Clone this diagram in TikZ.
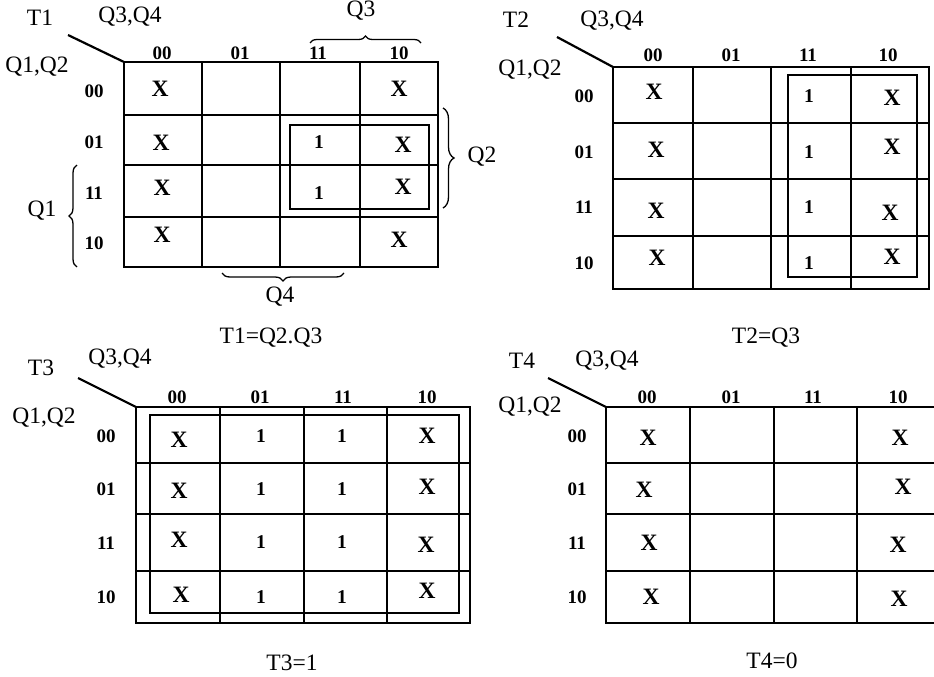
\documentclass[tikz,border=0pt]{standalone}
\usepackage{fontspec}
\setmainfont{Liberation Serif}
\usetikzlibrary{decorations.pathreplacing}
\begin{document}
\begin{tikzpicture}[x=1pt,y=-1pt,
  lbl/.style={font=\fontsize{23.5}{24}\selectfont, inner sep=0pt, anchor=base},
  hdr/.style={font=\fontsize{19}{19}\selectfont\bfseries, inner sep=0pt},
  xm/.style={font=\fontsize{23.5}{24}\selectfont\bfseries, inner sep=0pt},
  one/.style={font=\fontsize{19.5}{20}\selectfont\bfseries, inner sep=0pt},
  gridline/.style={line width=2pt},
  grp/.style={line width=2pt},
  diag/.style={line width=2.2pt},
  brc/.style={line width=1.3pt, decorate, decoration={brace, amplitude=#1}},
]
\useasboundingbox (0,0) rectangle (934,677);

% ================= Map T1 =================
\draw[gridline] (124,62) rectangle (438,267);
\foreach \x in {202,280,360} \draw[gridline] (\x,62) -- (\x,267);
\foreach \y in {115,165,217} \draw[gridline] (124,\y) -- (438,\y);
\coordinate (a1) at (68,35);
\coordinate (c1) at (124,62);
\draw[diag] (a1) -- (c1);
\node[lbl] (t1) at (40,26) {T1};
\node[lbl] (t1q34) at (130,23) {Q3,Q4};
\node[lbl] (t1q12) at (37,72) {Q1,Q2};
\foreach \x/\t [count=\i] in {162/00,240/01,318/11,399/10}
  \node[hdr] (t1col\i) at (\x,53) {\t};
\foreach \y/\t [count=\i] in {91/00,142/01,193/11,243/10}
  \node[hdr] (t1row\i) at (94,\y) {\t};
\node[xm] (t1x1) at (160,89) {X};
\node[xm] (t1x2) at (399,89) {X};
\node[xm] (t1x3) at (161,143) {X};
\node[xm] (t1x4) at (403,145) {X};
\node[xm] (t1x5) at (162,188) {X};
\node[xm] (t1x6) at (403,187) {X};
\node[xm] (t1x7) at (162,235) {X};
\node[xm] (t1x8) at (399,240) {X};
\node[one] (t1o1) at (319,142) {1};
\node[one] (t1o2) at (319,193) {1};
\draw[grp] (290,125) rectangle (429,209);
% braces
\coordinate (b3a) at (310,43); \coordinate (b3b) at (421,43);
\draw[brc=7pt] (b3a) -- (b3b);
\node[lbl] (lq3) at (361,17) {Q3};
\coordinate (b2a) at (443,108); \coordinate (b2b) at (443,208);
\draw[brc=11pt] (b2a) -- (b2b);
\node[lbl] (lq2) at (482,162) {Q2};
\coordinate (b1a) at (77,267); \coordinate (b1b) at (77,165);
\draw[brc=8pt] (b1a) -- (b1b);
\node[lbl] (lq1) at (42,216) {Q1};
\coordinate (b4a) at (344,273); \coordinate (b4b) at (222,273);
\draw[brc=8pt] (b4a) -- (b4b);
\node[lbl] (lq4) at (280,302) {Q4};
\node[lbl] (eq1) at (271,343) {T1=Q2.Q3};

% ================= Map T2 =================
\draw[gridline] (613,67) rectangle (929,289);
\foreach \x in {693,771,851} \draw[gridline] (\x,67) -- (\x,289);
\foreach \y in {123,179,236} \draw[gridline] (613,\y) -- (929,\y);
\coordinate (a2) at (557,37);
\coordinate (c2) at (613,67);
\draw[diag] (a2) -- (c2);
\node[lbl] (t2) at (516,28) {T2};
\node[lbl] (t2q34) at (612,27) {Q3,Q4};
\node[lbl] (t2q12) at (530,76) {Q1,Q2};
\foreach \x/\t [count=\i] in {653/00,731/01,808/11,888/10}
  \node[hdr] (t2col\i) at (\x,55) {\t};
\foreach \y/\t [count=\i] in {96/00,152/01,207/11,263/10}
  \node[hdr] (t2row\i) at (584,\y) {\t};
\node[xm] (t2x1) at (654,92) {X};
\node[xm] (t2x2) at (656,150) {X};
\node[xm] (t2x3) at (656,211) {X};
\node[xm] (t2x4) at (657,258) {X};
\node[xm] (t2x5) at (892,98) {X};
\node[xm] (t2x6) at (892,147) {X};
\node[xm] (t2x7) at (890,213) {X};
\node[xm] (t2x8) at (892,257) {X};
\foreach \y [count=\i] in {96,152,207,263}
  \node[one] (t2o\i) at (809,\y) {1};
\draw[grp] (788,75) rectangle (917,277);
\node[lbl] (eq2) at (766,343) {T2=Q3};

% ================= Map T3 =================
\draw[gridline] (136,407) rectangle (470,623);
\foreach \x in {220,304,387} \draw[gridline] (\x,407) -- (\x,623);
\foreach \y in {463,514,571} \draw[gridline] (136,\y) -- (470,\y);
\coordinate (a3) at (78,378);
\coordinate (c3) at (136,407);
\draw[diag] (a3) -- (c3);
\node[lbl] (t3) at (41,375) {T3};
\node[lbl] (t3q34) at (120,364) {Q3,Q4};
\node[lbl] (t3q12) at (44,423) {Q1,Q2};
\foreach \x/\t [count=\i] in {177/00,260/01,343/11,427/10}
  \node[hdr] (t3col\i) at (\x,397) {\t};
\foreach \y/\t [count=\i] in {436/00,489/01,543/11,597/10}
  \node[hdr] (t3row\i) at (106,\y) {\t};
\node[xm] (t3x1) at (179,440) {X};
\node[xm] (t3x2) at (179,491) {X};
\node[xm] (t3x3) at (179,540) {X};
\node[xm] (t3x4) at (181,595) {X};
\node[xm] (t3x5) at (427,436) {X};
\node[xm] (t3x6) at (427,487) {X};
\node[xm] (t3x7) at (426,545) {X};
\node[xm] (t3x8) at (427,591) {X};
\foreach \y [count=\i] in {436,489,542,597} {
  \node[one] (t3oa\i) at (261,\y) {1};
  \node[one] (t3ob\i) at (342,\y) {1};
}
\draw[grp] (150,415) rectangle (459,613);
\node[lbl] (eq3) at (292,670) {T3=1};

% ================= Map T4 =================
\draw[gridline] (934,407) -- (606,407) -- (606,623) -- (934,623);
\foreach \x in {690,774,857} \draw[gridline] (\x,407) -- (\x,623);
\foreach \y in {463,514,571} \draw[gridline] (606,\y) -- (934,\y);
\coordinate (a4) at (548,378);
\coordinate (c4) at (606,407);
\draw[diag] (a4) -- (c4);
\node[lbl] (t4) at (522,368) {T4};
\node[lbl] (t4q34) at (607,366) {Q3,Q4};
\node[lbl] (t4q12) at (530,412) {Q1,Q2};
\foreach \x/\t [count=\i] in {647/00,731/01,813/11,898/10}
  \node[hdr] (t4col\i) at (\x,397) {\t};
\foreach \y/\t [count=\i] in {436/00,489/01,543/11,597/10}
  \node[hdr] (t4row\i) at (577,\y) {\t};
\node[xm] (t4x1) at (648,438) {X};
\node[xm] (t4x2) at (644,490) {X};
\node[xm] (t4x3) at (649,543) {X};
\node[xm] (t4x4) at (651,597) {X};
\node[xm] (t4x5) at (900,438) {X};
\node[xm] (t4x6) at (903,487) {X};
\node[xm] (t4x7) at (898,545) {X};
\node[xm] (t4x8) at (899,599) {X};
\node[lbl] (eq4) at (772,668) {T4=0};
\end{tikzpicture}
\end{document}
